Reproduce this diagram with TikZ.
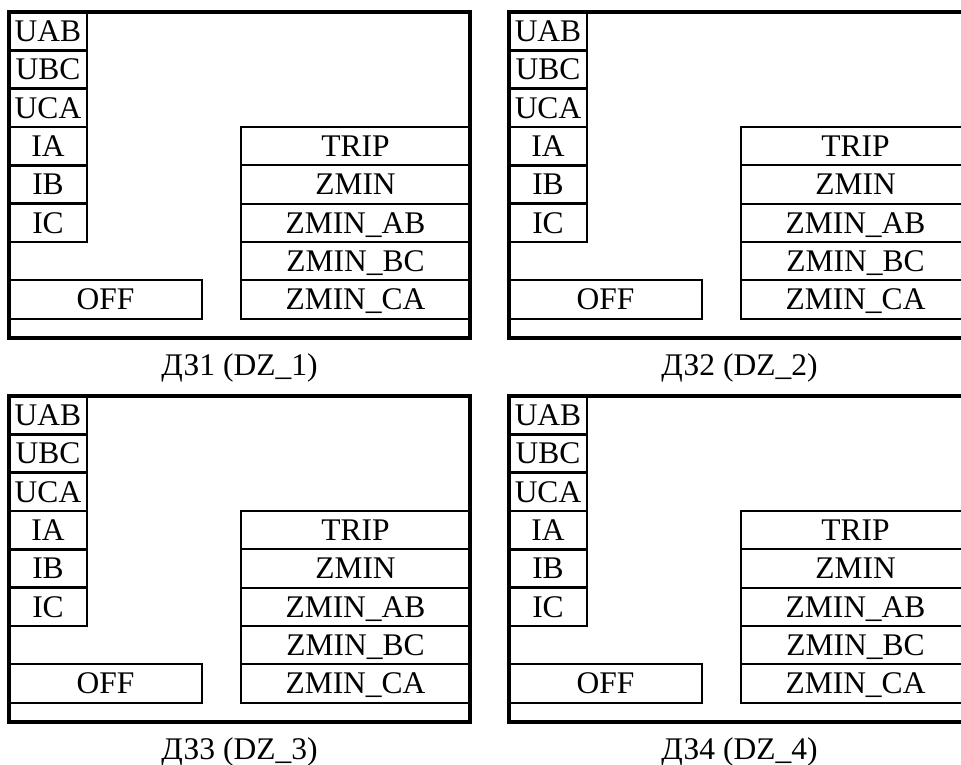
\documentclass[tikz,border=0pt]{standalone}
\usepackage{fontspec}
\setmainfont{Liberation Serif}
\begin{document}
\begin{tikzpicture}[x=1pt,y=-1pt,
  txt/.style={font=\fontsize{31.5}{32}\selectfont, text height=20.9pt, text depth=0pt, inner sep=0pt},
  frame/.style={draw, line width=3.1pt},
  inbox/.style={txt, draw, line width=2.9pt, minimum width=78pt, minimum height=38.33pt},
  outbox/.style={txt, draw, line width=2.2pt, minimum width=229pt, minimum height=38.33pt},
  offbox/.style={txt, draw, line width=2.2pt, minimum width=193pt, minimum height=38.33pt},
  caption/.style={txt}]
\useasboundingbox (0,0) rectangle (961,765);
\clip (0,0) rectangle (961,765);
% four identical function blocks, one per distance protection stage
\foreach \n/\ox/\oy in {1/0/0, 2/500/0, 3/0/384, 4/500/384}{
  \begin{scope}[shift={(\ox,\oy)}]
    \node[frame, minimum width=461pt, minimum height=326pt, inner sep=0pt] (blk\n) at (239.5,175) {};
    % inputs
    \foreach \lbl [count=\k from 0] in {UAB,UBC,UCA,IA,IB,IC}{
      \node[inbox] (in\n-\k) at (48,{12+38.33*(\k+0.5)}) {\lbl};
    }
    % outputs
    \foreach \lbl [count=\k from 3] in {TRIP,ZMIN,ZMIN\_AB,ZMIN\_BC,ZMIN\_CA}{
      \node[outbox] (out\n-\k) at (355.5,{12+38.33*(\k+0.5)}) {\lbl};
    }
    \node[offbox] (off\n) at (105.5,{12+38.33*7.5}) {OFF};
    \node[caption] (cap\n) at (239.5,365.5) {ДЗ\n\ (DZ\_\n)};
  \end{scope}
}
\end{tikzpicture}
\end{document}
